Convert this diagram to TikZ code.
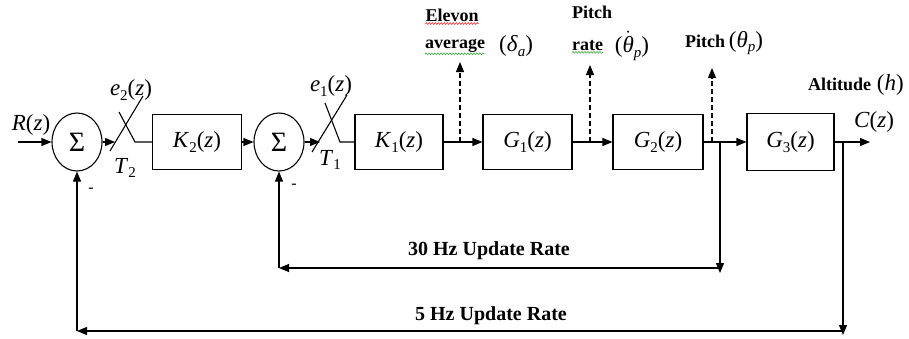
\documentclass[tikz,border=0pt]{standalone}
\usepackage{fontspec}
\setmainfont{Liberation Serif}
\usetikzlibrary{shapes.geometric,arrows.meta,decorations.pathmorphing}
\definecolor{wred}{RGB}{230,40,40}
\definecolor{wgreen}{RGB}{60,170,60}
\newcommand{\sbs}[1]{\raisebox{-0.45ex}{\fontsize{15}{15}\selectfont #1}}
\begin{document}
\begin{tikzpicture}[x=1pt,y=-1pt,
  blk/.style={draw,line width=1.1pt,minimum width=89pt,minimum height=55pt,inner sep=0pt,font=\fontsize{23}{23}\selectfont},
  sumn/.style={draw,ellipse,line width=1.1pt,minimum width=50pt,minimum height=58pt,inner sep=0pt,font=\fontsize{28}{28}\selectfont},
  ln/.style={line width=1.1pt},
  arr/.style={ln,-{Triangle[length=10pt,width=8pt]}},
  darr/.style={arr,dash pattern=on 5pt off 3pt},
  lbl/.style={inner sep=0pt,font=\fontsize{23}{23}\selectfont},
  blbl/.style={inner sep=0pt,font=\fontsize{18}{18}\selectfont\bfseries},
  rlbl/.style={inner sep=0pt,font=\fontsize{20}{20}\selectfont\bfseries},
  mlbl/.style={inner sep=0pt,font=\fontsize{16}{16}\selectfont},
  squig/.style={decorate,decoration={snake,amplitude=0.9pt,segment length=3pt},line width=0.6pt}
]
\useasboundingbox (0,0) rectangle (909,338);
% blocks
\node[sumn] (s1) at (77,142) {Σ};
\node[blk] (k2) at (197,142) {\textit{K}\sbs{2}(\textit{z})};
\node[sumn] (s2) at (279,142) {Σ};
\node[blk,minimum width=88pt] (k1) at (399,142) {\textit{K}\sbs{1}(\textit{z})};
\node[blk] (g1) at (527.5,142) {\textit{G}\sbs{1}(\textit{z})};
\node[blk,minimum width=90pt] (g2) at (658,142) {\textit{G}\sbs{2}(\textit{z})};
\node[blk,minimum width=87pt,minimum height=57pt] (g3) at (790.5,142) {\textit{G}\sbs{3}(\textit{z})};
% coordinates
\coordinate (in) at (18,142);
\coordinate (a1) at (115,142);
\coordinate (sw1a) at (110,151);
\coordinate (sw1b) at (143,96);
\coordinate (sw1c) at (119,112);
\coordinate (sw1d) at (135,142);
\coordinate (a2) at (320,142);
\coordinate (sw2a) at (312,152);
\coordinate (sw2b) at (347,95);
\coordinate (sw2c) at (325,103);
\coordinate (sw2d) at (340,142);
\coordinate (d1) at (460,142);
\coordinate (d1t) at (460,62);
\coordinate (d2) at (590,142);
\coordinate (d2t) at (590,65);
\coordinate (d3) at (712,142);
\coordinate (d3t) at (712,68);
\coordinate (b1) at (720,142);
\coordinate (b1d) at (720,268);
\coordinate (b1t) at (720,273);
\coordinate (b2) at (843,142);
\coordinate (b2d) at (843,331);
\coordinate (b2t) at (843,335);
\coordinate (out) at (870,142);
% forward path
\draw[arr] (in) -- (s1.west);
\draw[arr] (s1.east) -- (a1);
\draw[ln] (sw1a) -- (sw1b);
\draw[ln] (sw1c) -- (sw1d) -- (k2.west);
\draw[arr] (k2.east) -- (s2.west);
\draw[arr] (s2.east) -- (a2);
\draw[ln] (sw2a) -- (sw2b);
\draw[ln] (sw2c) -- (sw2d) -- (k1.west);
\draw[arr] (k1.east) -- (g1.west);
\draw[darr] (d1) -- (d1t);
\draw[arr] (g1.east) -- (g2.west);
\draw[darr] (d2) -- (d2t);
\draw[arr] (g2.east) -- (g3.west);
\draw[darr] (d3) -- (d3t);
\draw[arr] (g3.east) -- (out);
% feedback
\draw[arr] (b1) -- (b1t);
\draw[arr] (b1d) -- (b1d -| s2);
\draw[arr] (b1d -| s2) -- (s2.south);
\draw[arr] (b2) -- (b2t);
\draw[arr] (b2d) -- (b2d -| s1);
\draw[arr] (b2d -| s1) -- (s1.south);
% labels
\node[lbl] (rl) at (31,125) {\textit{R}(\textit{z})};
\node[lbl] (e2) at (131,90) {\textit{e}\sbs{2}(\textit{z})};
\node[lbl] (t2) at (125,168) {\textit{T}\sbs{2}};
\node[lbl] (e1) at (331,86) {\textit{e}\sbs{1}(\textit{z})};
\node[lbl] (t1) at (330,160) {\textit{T}\sbs{1}};
\node[mlbl] (m1) at (91,190) {-};
\node[mlbl] (m2) at (294,186) {-};
\node[blbl] (elev) at (452,15) {Elevon};
\node[blbl,anchor=west] (avg) at (425,46) {average};
\node[lbl] (dla) at (516,46) {(\textit{δ}\sbs{\textit{a}})};
\node[blbl] (pit1) at (592,12) {Pitch};
\node[blbl,anchor=west] (rate) at (572,46) {rate};
\node[lbl] (thd) at (632,46) {($\dot{\hbox{\textit{θ}}}$\sbs{\textit{p}})};
\node[lbl] (pit2) at (724,43) {{\bfseries\fontsize{18}{18}\selectfont Pitch}\,(\textit{θ}\sbs{\textit{p}})};
\node[lbl] (alt) at (856,85) {{\bfseries\fontsize{18}{18}\selectfont Altitude}~(\textit{h})};
\node[lbl] (cz) at (874,122) {\textit{C}(\textit{z})};
\node[rlbl] (r30) at (489,251) {30 Hz Update Rate};
\node[rlbl] (r5) at (491,316) {5 Hz Update Rate};
% spell-check squiggles
\draw[squig,wred] ([yshift=-2pt]elev.south west) -- ([yshift=-2pt]elev.south east);
\draw[squig,wgreen] ([yshift=-1pt]avg.south west) -- ([yshift=-1pt]avg.south east);
\draw[squig,wgreen] ([yshift=-1pt]rate.south west) -- ([yshift=-1pt]rate.south east);
\end{tikzpicture}
\end{document}
